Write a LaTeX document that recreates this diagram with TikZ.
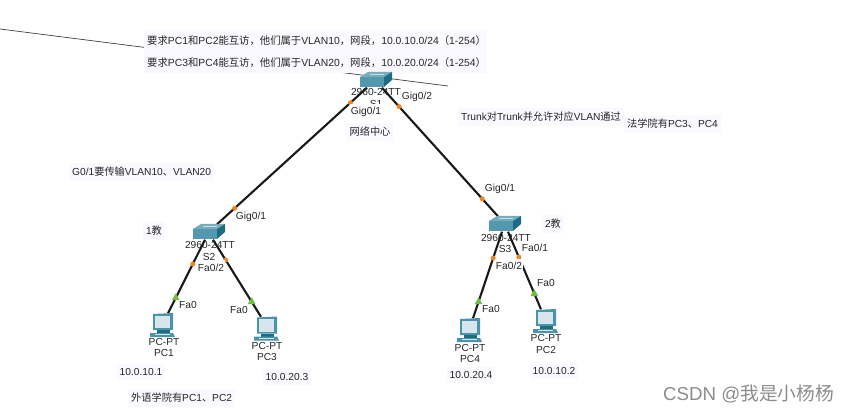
\documentclass[tikz,border=0pt]{standalone}
\usepackage{fontspec}
\setmainfont{Liberation Sans}
\newfontfamily\zh{Noto Sans CJK SC}
\usetikzlibrary{shapes.geometric}
\definecolor{notebg}{HTML}{F9F9FF}
\definecolor{labeltext}{HTML}{262626}
\definecolor{swfront}{HTML}{5398AE}
\definecolor{swtop}{HTML}{76ADBD}
\definecolor{swside}{HTML}{1E6C84}
\definecolor{pcframe}{HTML}{4A93A8}
\definecolor{pcscreen}{HTML}{D6E6EC}
\definecolor{portorange}{HTML}{F58220}
\definecolor{portgreen}{HTML}{6CBE45}
\tikzset{
  devbox/.style={minimum width=32pt, minimum height=15pt, inner sep=0pt},
  pcbox/.style={minimum width=20pt, minimum height=17pt, inner sep=0pt},
  devlabel/.style={inner sep=0pt, text=labeltext, font=\fontsize{10.2}{12}\selectfont},
  portlabel/.style={devlabel, fill=white, inner xsep=1pt, inner ysep=1.5pt},
  note/.style={fill=notebg, inner xsep=3pt, inner ysep=4pt, text=labeltext, font=\fontsize{10.2}{12}\selectfont},
  reqnote/.style={note, anchor=west, text width=337pt, minimum height=21.5pt, font=\fontsize{10.35}{12}\selectfont},
  link/.style={line width=2.1pt, black!90},
  portup/.style={circle, fill=portorange, inner sep=0pt, minimum size=5pt},
  portok/.style={regular polygon, regular polygon sides=3, fill=portgreen, inner sep=0pt, minimum size=9pt}
}
\newcommand{\switchicon}[1]{
  \begin{scope}[shift={(#1)}]
    \fill[swfront] (-16,-3) rectangle (8,7);
    \fill[swtop] (-16,-3) -- (-8,-8) -- (16,-8) -- (8,-3) -- cycle;
    \fill[swside] (8,-3) -- (16,-8) -- (16,0) -- (8,7) -- cycle;
    \draw[white!60!swtop, line width=.5pt] (-6,-6) -- (8,-6);
  \end{scope}
}
\newcommand{\pcicon}[1]{
  \begin{scope}[shift={(#1)}]
    \fill[pcframe] (-10,-8) -- (10,-9) -- (10,8) -- (-10,8) -- cycle;
    \fill[pcscreen] (-8.5,-6.5) rectangle (7,6);
    \fill[swside] (-6,8) rectangle (7,11);
    \fill[pcframe] (-13,11) -- (10,11) -- (12,15) -- (-13,15) -- cycle;
    \fill[pcscreen] (-8,12) rectangle (7,13);
  \end{scope}
}

\begin{document}
\begin{tikzpicture}[x=1pt, y=-1pt]
  \useasboundingbox (0,0) rectangle (849,414);
  \coordinate (strayA) at (0,29);
  \coordinate (strayB) at (448,86);
  \draw[line width=.7pt, black!75] (strayA) -- (strayB);

  % texts on the canvas
  \node[reqnote] (req1) at (144,41)
    {\mbox{{\zh 要求}PC1{\zh 和}PC2{\zh 能互访，他们属于}VLAN10{\zh ，网段，}10.0.10.0/24{\zh （}1-254{\zh ）}}};
  \node[reqnote] (req2) at (144,62.5)
    {\mbox{{\zh 要求}PC3{\zh 和}PC4{\zh 能互访，他们属于}VLAN20{\zh ，网段，}10.0.20.0/24{\zh （}1-254{\zh ）}}};
  \node[note] (center) at (370,132) {\zh 网络中心};
  \node[note, anchor=west] (trunk) at (458,117) {Trunk{\zh 对}Trunk{\zh 并允许对应}VLAN{\zh 通过}};
  \node[note, anchor=west] (law) at (624,124) {{\zh 法学院有}PC3{\zh 、}PC4};
  \node[note, anchor=west] (g01) at (69,172) {G0/1{\zh 要传输}VLAN10{\zh 、}VLAN20};
  \node[note] (jiao1) at (154,231) {1{\zh 教}};
  \node[note] (jiao2) at (553,224) {2{\zh 教}};
  \node[note] (ip1) at (141,372) {10.0.10.1};
  \node[note] (ip3) at (287,377) {10.0.20.3};
  \node[note] (ip4) at (471,375) {10.0.20.4};
  \node[note] (ip2) at (554,371) {10.0.10.2};
  \node[note, anchor=west] (foreign) at (128,398) {{\zh 外语学院有}PC1{\zh 、}PC2};
  \node[anchor=east, inner sep=0pt, text=black!45, font=\fontsize{18.7}{20}\selectfont] (mark) at (834,394) {CSDN @{\zh 我是小杨杨}};

  % devices
  \node[devbox] (S1) at (376,80) {};
  \node[devbox] (S2) at (209,232) {};
  \node[devbox] (S3) at (505,224) {};
  \node[pcbox] (PC1) at (163,322) {};
  \node[pcbox] (PC3) at (267,325.5) {};
  \node[pcbox] (PC4) at (470,327) {};
  \node[pcbox] (PC2) at (546,318) {};

  % device names
  \node[devlabel] (S1type) at (376,92) {2960-24TT};
  \node[devlabel] (S1name) at (376,103.5) {S1};
  \node[devlabel] (S2type) at (210,245) {2960-24TT};
  \node[devlabel] (S2name) at (209,257) {S2};
  \node[devlabel] (S3type) at (506,238) {2960-24TT};
  \node[devlabel] (S3name) at (505,249) {S3};
  \node[devlabel] (PC1type) at (164,342) {PC-PT};
  \node[devlabel] (PC1name) at (164,353) {PC1};
  \node[devlabel] (PC3type) at (267,346) {PC-PT};
  \node[devlabel] (PC3name) at (267,357) {PC3};
  \node[devlabel] (PC4type) at (470,348) {PC-PT};
  \node[devlabel] (PC4name) at (470,359) {PC4};
  \node[devlabel] (PC2type) at (546,338) {PC-PT};
  \node[devlabel] (PC2name) at (546,350) {PC2};

  % links
  \draw[link] ([xshift=-9pt]S1.south) -- node[portup, pos=.11] (m1) {} node[portup, pos=.883] (m2) {} ([xshift=8pt]S2.north);
  \draw[link] ([xshift=6pt]S1.south) -- node[portup, pos=.147] (m3) {} node[portup, pos=.864] (m4) {} ([xshift=-7pt]S3.north);
  \draw[link] ([xshift=-4pt]S2.south) -- node[portup, pos=.33] (m5) {} node[portok, pos=.79] (m6) {} ([xshift=5pt]PC1.north);
  \draw[link] ([xshift=4pt]S2.south) -- node[portup, pos=.265] (m7) {} node[portok, pos=.806] (m8) {} ([xshift=-6pt]PC3.north);
  \draw[link] ([xshift=-3pt]S3.south) -- node[portup, pos=.305] (m9) {} node[portok, pos=.81] (m10) {} ([xshift=3pt]PC4.north);
  \draw[link] ([xshift=3pt]S3.south) -- node[portup, pos=.327] (m11) {} node[portok, pos=.80] (m12) {} ([xshift=-5pt]PC2.north);

  \switchicon{S1}
  \switchicon{S2}
  \switchicon{S3}
  \pcicon{PC1}
  \pcicon{PC3}
  \pcicon{PC4}
  \pcicon{PC2}

  % port names
  \node[portlabel, minimum height=15pt] (p1) at (366,111.5) {Gig0/1};
  \node[portlabel] (p2) at (417,97) {Gig0/2};
  \node[portlabel] (p3) at (251,217) {Gig0/1};
  \node[portlabel] (p4) at (500,189) {Gig0/1};
  \node[portlabel, minimum height=16pt] (p5) at (211,268) {Fa0/2};
  \node[portlabel] (p6) at (188,305) {Fa0};
  \node[portlabel] (p7) at (239,310) {Fa0};
  \node[portlabel] (p8) at (535,248) {Fa0/1};
  \node[portlabel, minimum height=14pt] (p9) at (509,266) {Fa0/2};
  \node[portlabel] (p10) at (491,309) {Fa0};
  \node[portlabel] (p11) at (546,283) {Fa0};
\end{tikzpicture}
\end{document}
